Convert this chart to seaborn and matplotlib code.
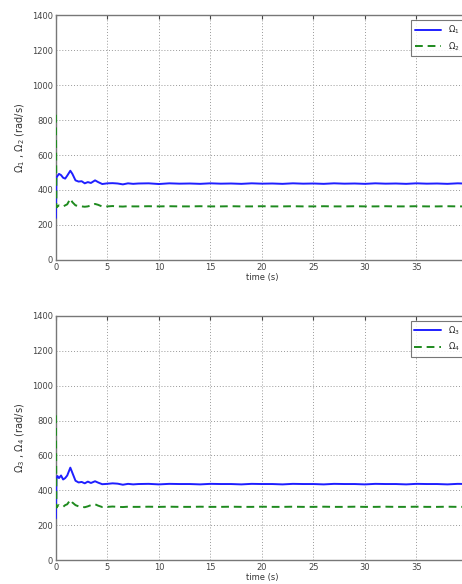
import matplotlib
matplotlib.use("Agg")
import matplotlib.pyplot as plt
import seaborn as sns

# time stamps (s) shared by the rotor speed traces
t = [0, 0.05, 0.15, 0.3, 0.5, 0.7, 0.9, 1.1, 1.4, 1.6, 1.9, 2.2, 2.5, 2.8,
     3.1, 3.4, 3.8, 4.1, 4.5, 5, 5.5, 6, 6.5, 7, 7.5, 8, 9, 10, 11, 12, 13,
     14, 15, 16, 17, 18, 19, 20, 21, 22, 23, 24, 25, 26, 27, 28, 29, 30, 31,
     32, 33, 34, 35, 36, 37, 38, 39, 40]

omega1 = [240, 470, 480, 492, 485, 470, 465, 482, 510, 492, 455, 448, 450, 438,
          445, 440, 455, 445, 434, 438, 439, 437, 432, 438, 435, 437, 438, 434,
          438, 436, 437, 435, 438, 436, 437, 435, 438, 436, 437, 435, 438, 436,
          437, 435, 438, 436, 437, 435, 438, 436, 437, 435, 438, 436, 437, 435,
          438, 436]
omega2 = [830, 300, 305, 312, 310, 305, 312, 318, 350, 330, 312, 308, 306, 304,
          306, 312, 320, 315, 305, 306, 308, 306, 305, 307, 306, 306, 307, 306,
          307, 306, 306, 307, 306, 306, 307, 306, 306, 307, 306, 306, 307, 306,
          306, 307, 306, 306, 307, 306, 306, 307, 306, 306, 307, 306, 306, 307,
          306, 306]

omega3 = [240, 465, 482, 470, 485, 462, 470, 485, 530, 500, 455, 445, 448, 440,
          450, 442, 452, 444, 435, 437, 440, 438, 432, 437, 434, 436, 437, 434,
          437, 436, 436, 434, 437, 436, 436, 434, 437, 436, 436, 434, 437, 436,
          436, 434, 437, 436, 436, 434, 437, 436, 436, 434, 437, 436, 436, 434,
          437, 436]
omega4 = [830, 300, 310, 315, 308, 305, 315, 320, 345, 330, 315, 308, 305, 303,
          308, 315, 320, 312, 304, 305, 307, 305, 304, 306, 305, 305, 306, 305,
          306, 305, 305, 306, 305, 305, 306, 305, 305, 306, 305, 305, 306, 305,
          305, 306, 305, 305, 306, 305, 305, 306, 305, 305, 306, 305, 305, 306,
          305, 305]

panels = [(omega1, omega2, r"$\Omega_1$", r"$\Omega_2$",
           r"$\Omega_1$ , $\Omega_2$ (rad/s)"),
          (omega3, omega4, r"$\Omega_3$", r"$\Omega_4$",
           r"$\Omega_3$ , $\Omega_4$ (rad/s)")]

sns.set_style("white")
plt.rcParams["font.family"] = ["DejaVu Sans"]
plt.rcParams["mathtext.fontset"] = "dejavusans"

fig = plt.figure(figsize=(4.62, 5.84), dpi=100)
# axes run slightly past the right edge, as in the cropped original
boxes = [[0.121, 0.555, 0.892, 0.419], [0.121, 0.041, 0.892, 0.418]]

for box, (a, b, la, lb, ylab) in zip(boxes, panels):
    ax = fig.add_axes(box)
    sns.lineplot(x=t, y=a, ax=ax, color="#1f1fff", lw=1.4, label=la, zorder=3)
    sns.lineplot(x=t, y=b, ax=ax, color="#1e8a1e", lw=1.4, label=lb,
                 linestyle=(0, (4, 2.5)), zorder=3)
    ax.set_xlim(0, 40)
    ax.set_ylim(0, 1400)
    ax.set_xticks(range(0, 40, 5))
    ax.set_yticks(range(0, 1401, 200))
    ax.grid(True, linestyle=(0, (1, 2)), color="#999999", lw=0.7)
    ax.tick_params(direction="in", labelsize=6, length=3, colors="#444444",
                   top=True, right=True, pad=2)
    for s in ax.spines.values():
        s.set_color("#777777")
        s.set_linewidth(1.0)
        s.set_zorder(1.5)
    ax.set_xlabel("time (s)", fontsize=6, labelpad=1, color="#333333")
    ax.set_ylabel(ylab, fontsize=7, labelpad=4, color="#333333")
    leg = ax.legend(loc="upper right", fontsize=6, handlelength=3.2,
                    frameon=True, fancybox=False, borderaxespad=0.6)
    leg.get_frame().set_edgecolor("#555555")
    leg.get_frame().set_linewidth(0.8)
    leg.set_zorder(5)

fig.savefig("out.png", dpi=100)
